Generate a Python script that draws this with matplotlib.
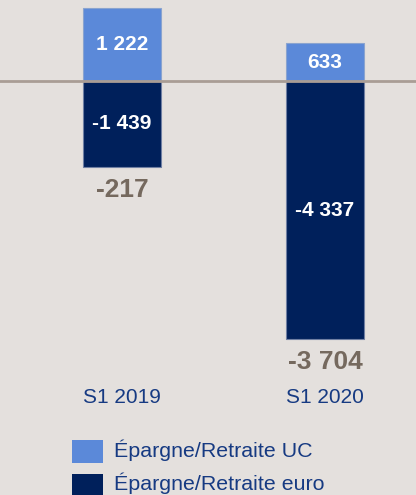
import matplotlib
matplotlib.use("Agg")
import matplotlib.pyplot as plt
import matplotlib.transforms as mtransforms
from matplotlib.patches import Rectangle

plt.rcParams['font.family'] = ['Liberation Sans', 'DejaVu Sans']

categories = ["S1 2019", "S1 2020"]
uc_values = [1222, 633]
euro_values = [-1439, -4337]
net_values = [-217, -3704]
series_names = ["Épargne/Retraite UC", "Épargne/Retraite euro"]

BG = "#e4e0dd"
C_UC = "#5b89d9"
C_EURO = "#00205b"
C_NET = "#75695e"
C_TXT = "#163a82"
C_LINE = "#a99d95"

def fmt(v):
    s = f"{abs(v):,}".replace(",", " ")
    return ("-" if v < 0 else "") + s

W, H = 416, 495
fig = plt.figure(figsize=(W / 100, H / 100), dpi=100, facecolor=BG)
ax = fig.add_axes([0, 0, 1, 1])
ax.set_facecolor(BG)
ax.axis("off")

upp = 16.78  # value units per pixel
zero_px = 81
ax.set_ylim(-(H - zero_px) * upp, zero_px * upp)
ax.set_xlim(-122 / 203, 1 + (W - 325) / 203)

x = list(range(len(categories)))
bw = 78 / 203
ax.bar(x, uc_values, width=bw, color=C_UC, edgecolor="#8aa4cf", linewidth=0.8, zorder=2)
ax.bar(x, euro_values, width=bw, color=C_EURO, edgecolor="#6f7fa3", linewidth=0.8, zorder=2)
ax.axhline(0, color=C_LINE, linewidth=2, zorder=3)

for xi, u, e, n in zip(x, uc_values, euro_values, net_values):
    ax.text(xi, u / 2, fmt(u), ha="center", va="center", color="white",
            fontsize=15, fontweight="bold", zorder=4)
    ax.text(xi, e / 2, fmt(e), ha="center", va="center", color="white",
            fontsize=15, fontweight="bold", zorder=4)
    ax.annotate(fmt(n), (xi, e), xytext=(0, -23), textcoords="offset pixels",
                ha="center", va="center", color=C_NET, fontsize=19, fontweight="bold")

trans = mtransforms.blended_transform_factory(ax.transData, ax.transAxes)
for xi, c in zip(x, categories):
    ax.text(xi, 1 - 403 / H, c, transform=trans, ha="center", va="baseline",
            color=C_TXT, fontsize=15)

# legend
for i, (name, col) in enumerate(zip(series_names, [C_UC, C_EURO])):
    top = 440 + i * 34
    fig.patches.append(Rectangle((72 / W, 1 - (top + 23) / H), 31 / W, 23 / H,
                                 transform=fig.transFigure, facecolor=col, edgecolor="none"))
    fig.text(114 / W, 1 - (457 + i * 33) / H, name, ha="left", va="baseline",
             color=C_TXT, fontsize=15.4)

fig.savefig("out.png", dpi=100, facecolor=BG)
